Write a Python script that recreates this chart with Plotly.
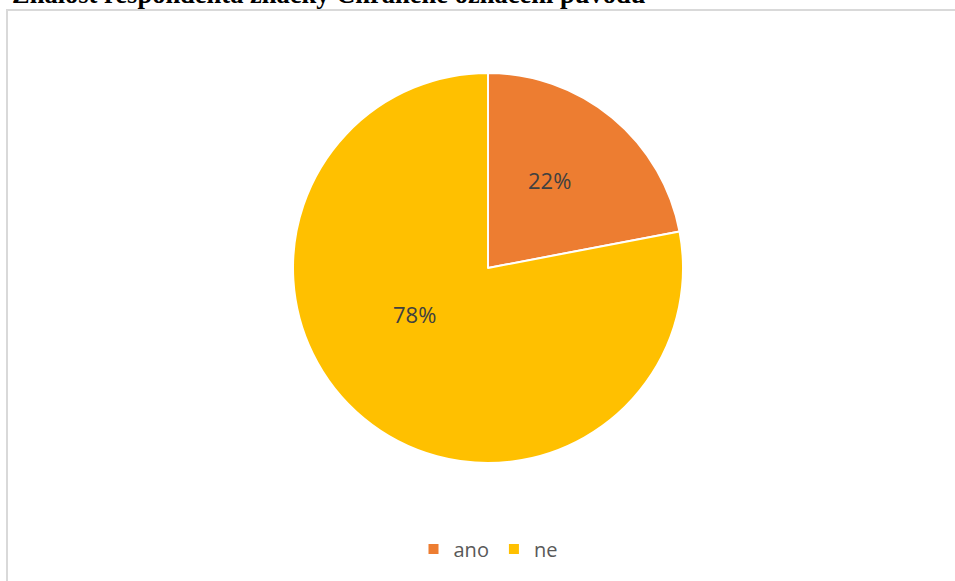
import plotly.graph_objects as go

# Survey answers: does the respondent know the PDO label?
labels = ["ano", "ne"]
shares = [22, 78]
colors = ["#ED7D31", "#FFC000"]
title_text = "Znalost respondenta značky Chráněné označení původu"

W, H = 955, 581
cx, cy, R = 488, 268, 195

fig = go.Figure()
fig.add_trace(go.Pie(
    labels=labels,
    values=shares,
    sort=False,
    direction="clockwise",
    rotation=0,
    marker=dict(colors=colors, line=dict(color="white", width=2)),
    textinfo="none",
    hoverinfo="label+percent",
    domain=dict(x=[(cx - R) / W, (cx + R) / W], y=[1 - (cy + R) / H, 1 - (cy - R) / H]),
))

# percentage labels inside the slices (pixel positions of each label)
label_pos = [(549, 180), (414, 314)]
for v, (px, py) in zip(shares, label_pos):
    fig.add_annotation(text=f"{v}%", xref="paper", yref="paper",
                       x=px / W, y=1 - py / H, xanchor="center", yanchor="middle",
                       showarrow=False,
                       font=dict(family="Open Sans", size=22, color="#404040"))

# chart frame
fig.add_shape(type="rect", xref="paper", yref="paper",
              x0=7 / W, x1=1.05, y0=-0.05, y1=1 - 10 / H,
              line=dict(color="#D9D9D9", width=2), fillcolor="rgba(0,0,0,0)", layer="below")

# heading above the frame
fig.add_annotation(text="<b>" + title_text + "</b>", xref="paper", yref="paper",
                   x=10 / W, y=1 - 5 / H, xanchor="left", yanchor="bottom",
                   showarrow=False, yshift=-6,
                   font=dict(family="Liberation Serif", size=26.5, color="black"))

fig.update_layout(
    width=W, height=H,
    margin=dict(l=0, r=0, t=0, b=0),
    paper_bgcolor="white",
    plot_bgcolor="white",
    showlegend=True,
    legend=dict(orientation="h", x=488 / W, xanchor="center", y=1 - 549 / H, yanchor="middle",
                font=dict(family="Open Sans", size=20, color="#595959"),
                itemwidth=30, traceorder="normal"),
)

fig.write_html("out.html")
